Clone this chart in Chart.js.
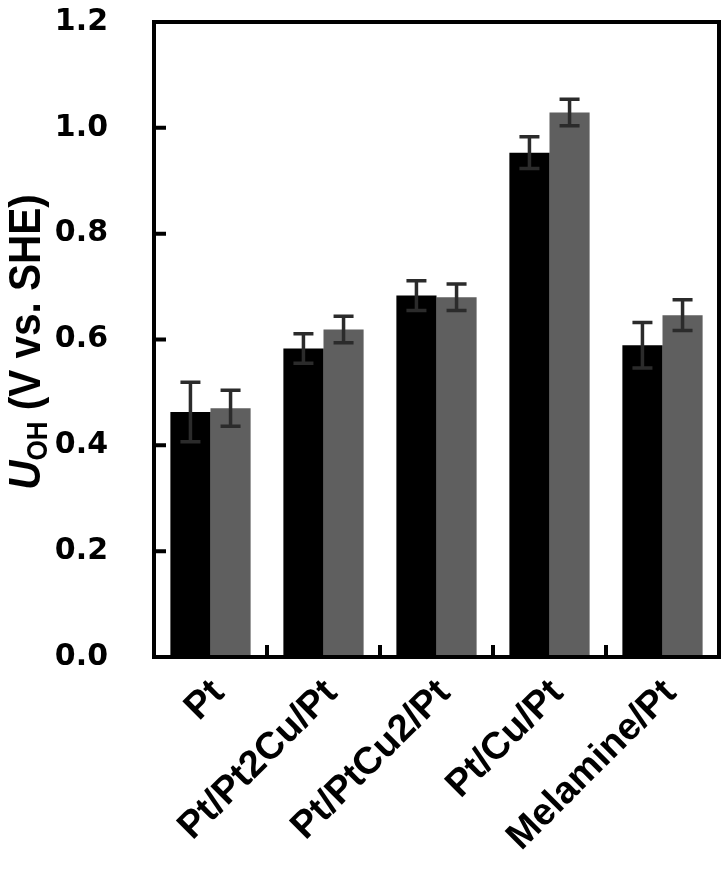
<!DOCTYPE html>
<html><head><meta charset="utf-8">
<script src="https://cdn.jsdelivr.net/npm/chart.js@4/dist/chart.umd.min.js"></script>
<style>html,body{margin:0;padding:0;background:#fff}#wrap{width:727px;height:874px;position:relative}</style>
</head><body><div id="wrap"><canvas id="c" width="727" height="874"></canvas></div>
<script>
const categories = ['Pt', 'Pt/Pt2Cu/Pt', 'Pt/PtCu2/Pt', 'Pt/Cu/Pt', 'Melamine/Pt'];
const seriesA = [0.463, 0.583, 0.683, 0.953, 0.589];
const errorsA = [0.056, 0.028, 0.028, 0.030, 0.043];
const seriesB = [0.470, 0.619, 0.680, 1.029, 0.646];
const errorsB = [0.034, 0.025, 0.025, 0.025, 0.029];
const yTicks = [0.0, 0.2, 0.4, 0.6, 0.8, 1.0, 1.2];
const errorSets = [errorsA, errorsB];

const errorBarPlugin = {
  id: 'errorBars',
  afterDatasetsDraw(chart) {
    const ctx = chart.ctx, y = chart.scales.y;
    ctx.save();
    ctx.strokeStyle = '#2b2b2b';
    ctx.lineWidth = 3.5;
    chart.data.datasets.forEach((ds, i) => {
      const meta = chart.getDatasetMeta(i);
      meta.data.forEach((bar, j) => {
        const v = ds.data[j], e = errorSets[i][j];
        const yt = y.getPixelForValue(v + e), yb = y.getPixelForValue(v - e);
        const x = bar.x, hw = 10;
        ctx.beginPath();
        ctx.moveTo(x, yt); ctx.lineTo(x, yb);
        ctx.moveTo(x - hw, yt); ctx.lineTo(x + hw, yt);
        ctx.moveTo(x - hw, yb); ctx.lineTo(x + hw, yb);
        ctx.stroke();
      });
    });
    ctx.restore();
  }
};

const framePlugin = {
  id: 'frame',
  afterDraw(chart) {
    const ctx = chart.ctx, a = chart.chartArea, xs = chart.scales.x, ys = chart.scales.y;
    ctx.save();
    ctx.strokeStyle = '#000';
    ctx.lineWidth = 4;
    ctx.beginPath();
    yTicks.forEach(t => {
      const py = ys.getPixelForValue(t);
      ctx.moveTo(a.left, py); ctx.lineTo(a.left + 12, py);
    });
    for (let i = 0; i < categories.length - 1; i++) {
      const px = (xs.getPixelForValue(i) + xs.getPixelForValue(i + 1)) / 2;
      ctx.moveTo(px, a.bottom); ctx.lineTo(px, a.bottom - 12);
    }
    ctx.stroke();
    ctx.lineJoin = 'miter';
    ctx.strokeRect(a.left, a.top, a.right - a.left, a.bottom - a.top);
    // y-axis title
    ctx.fillStyle = '#000';
    ctx.translate(40, 342);
    ctx.rotate(-Math.PI / 2);
    ctx.scale(0.9, 1);
    ctx.textBaseline = 'alphabetic';
    const fMain = 'bold 45px "Liberation Sans", Arial, sans-serif';
    const fItal = 'italic bold 45px "Liberation Sans", Arial, sans-serif';
    const fSub = 'bold 29px "Liberation Sans", Arial, sans-serif';
    const parts = [['U', fItal, 0], ['OH', fSub, 7], [' (V vs. SHE)', fMain, 0]];
    let total = 0;
    parts.forEach(p => { ctx.font = p[1]; total += ctx.measureText(p[0]).width; });
    let cx = -total / 2;
    parts.forEach(p => { ctx.font = p[1]; ctx.fillText(p[0], cx, p[2]); cx += ctx.measureText(p[0]).width; });
    ctx.restore();
  }
};

new Chart(document.getElementById('c'), {
  type: 'bar',
  data: {
    labels: categories,
    datasets: [
      { label: 'A', data: seriesA, backgroundColor: '#000000', borderWidth: 0 },
      { label: 'B', data: seriesB, backgroundColor: '#5f5f5f', borderWidth: 0 }
    ]
  },
  options: {
    responsive: false,
    devicePixelRatio: 1,
    animation: false,
    layout: { padding: { top: 22, right: 8, left: 0, bottom: 0 } },
    plugins: { legend: { display: false }, tooltip: { enabled: false } },
    datasets: { bar: { barPercentage: 1, categoryPercentage: 0.71 } },
    scales: {
      x: {
        grid: { display: false, drawTicks: false },
        border: { display: false },
        ticks: {
          autoSkip: false, maxRotation: 45, minRotation: 45,
          padding: 14, labelOffset: 8,
          color: '#000',
          font: { family: '"Liberation Sans", Arial, sans-serif', weight: 'bold', size: 38 }
        },
        afterFit(s) { s.height = 217; s.paddingLeft = 0; s.paddingRight = 0; }
      },
      y: {
        min: 0, max: 1.2,
        grid: { display: false, drawTicks: false },
        border: { display: false },
        afterBuildTicks(s) { s.ticks = yTicks.map(v => ({ value: v })); },
        ticks: {
          padding: 46, color: '#000',
          callback: v => Number(v).toFixed(1),
          font: { family: '"DejaVu Sans", sans-serif', weight: 'bold', size: 30 }
        },
        afterFit(s) { s.width = 154; s.paddingTop = 0; s.paddingBottom = 0; }
      }
    }
  },
  plugins: [errorBarPlugin, framePlugin]
});
</script></body></html>
